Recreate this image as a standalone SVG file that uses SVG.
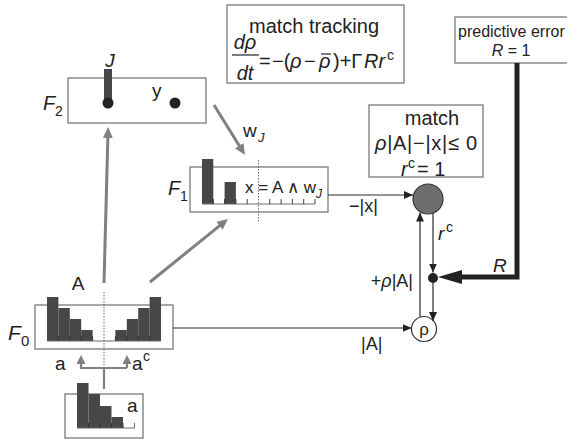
<svg xmlns="http://www.w3.org/2000/svg" width="567" height="440" viewBox="0 0 567 440">
<defs>
<marker id="ag" markerUnits="userSpaceOnUse" markerWidth="11" markerHeight="10" viewBox="0 0 11 10" refX="6" refY="5" orient="auto"><path d="M0,0 L11,5 L0,10 z" fill="#808080"/></marker>
<marker id="ag2" markerUnits="userSpaceOnUse" markerWidth="9" markerHeight="9" viewBox="0 0 9 9" refX="4" refY="4.5" orient="auto"><path d="M0,0 L9,4.5 L0,9 z" fill="#808080"/></marker>
<marker id="ak" markerUnits="userSpaceOnUse" markerWidth="9" markerHeight="8" viewBox="0 0 9 8" refX="9" refY="4" orient="auto"><path d="M0,0 L9,4 L0,8 z" fill="#222"/></marker>
<marker id="akb" markerUnits="userSpaceOnUse" markerWidth="24" markerHeight="14" viewBox="0 0 24 14" refX="12" refY="7" orient="auto"><path d="M0,0 L24,7 L0,14 z" fill="#222"/></marker>
</defs>
<style>
text{font-family:"Liberation Sans",Arial,sans-serif;fill:#222}
.it{font-style:italic}
.box{fill:#fff;stroke:#7a7a7a;stroke-width:1.3}
.bar{fill:#474747}
.base{stroke:#6a6a6a;stroke-width:1;fill:none}
.tick{stroke:#2a2a2a;stroke-width:0.9}
.g{stroke:#808080;stroke-width:3;fill:none}
.g2{stroke:#808080;stroke-width:2.2;fill:none}
.k{stroke:#2a2a2a;stroke-width:1.2;fill:none}
.dash{stroke:#444;stroke-width:0.8;stroke-dasharray:1.5 1.5;fill:none}
</style>
<rect width="567" height="440" fill="#fff"/>

<g id="match-tracking">
<rect class="box" x="227" y="5" width="177" height="78"/>
<text x="314" y="33" font-size="20" text-anchor="middle">match tracking</text>
<text x="245" y="49" font-size="20" text-anchor="middle" class="it">dρ</text>
<line x1="232" y1="55" x2="259" y2="55" stroke="#222" stroke-width="1.2"/>
<text x="245" y="80" font-size="20" text-anchor="middle" class="it">dt</text>
<text y="68" font-size="20"><tspan x="259">=</tspan><tspan x="272">−(</tspan><tspan x="290" class="it">ρ</tspan><tspan x="304">−</tspan><tspan x="319" class="it">ρ</tspan><tspan x="333">)+Γ</tspan><tspan x="364" class="it">Rr</tspan><tspan x="387" y="60" font-size="14">c</tspan></text>
<line x1="321" y1="54" x2="331" y2="54" stroke="#222" stroke-width="1.2"/>
</g>

<g id="predictive-error">
<rect class="box" x="455" y="17" width="120" height="46"/>
<text x="458" y="37" font-size="16">predictive error</text>
<text x="511" y="56" font-size="16" text-anchor="middle"><tspan class="it">R</tspan> = 1</text>
</g>

<g id="F2">
<rect class="box" x="68" y="78" width="138" height="45"/>
<rect class="bar" x="104" y="69" width="8" height="34"/>
<circle cx="108" cy="103" r="5.5" fill="#222"/>
<circle cx="175" cy="103" r="5.5" fill="#222"/>
<text x="110" y="67" font-size="19" text-anchor="middle" class="it">J</text>
<text x="152" y="97" font-size="19">y</text>
<text x="43" y="110" font-size="20" class="it">F</text>
<text x="55" y="116" font-size="14">2</text>
</g>

<g id="F1">
<rect class="box" x="190" y="167" width="138" height="45"/>
<rect class="bar" x="202" y="159" width="11.3" height="45"/>
<rect class="bar" x="224.6" y="182" width="11.3" height="22"/>
<path class="base" d="M202,204 H315"/>
<path class="tick" d="M213.3,199V204 M224.6,199V204 M235.9,199V204 M247.2,199V204 M269.8,199V204 M281.1,199V204 M292.4,199V204 M303.7,199V204 M315,199V204"/>
<line class="dash" x1="258.5" y1="160" x2="258.5" y2="222"/>
<text x="168" y="195" font-size="20" class="it">F</text>
<text x="180" y="201" font-size="14">1</text>
<text y="193" font-size="17"><tspan x="245">x = A ∧ w</tspan><tspan dy="5" font-size="12" class="it">J</tspan></text>
</g>

<g id="F0">
<rect class="box" x="35" y="305" width="138" height="44"/>
<rect class="bar" x="47" y="297" width="11.4" height="44"/>
<rect class="bar" x="58.4" y="308" width="11.4" height="33"/>
<rect class="bar" x="69.8" y="319" width="11.4" height="22"/>
<rect class="bar" x="81.2" y="330" width="11.4" height="11"/>
<rect class="bar" x="115.4" y="330" width="11.4" height="11"/>
<rect class="bar" x="126.8" y="319" width="11.4" height="22"/>
<rect class="bar" x="138.2" y="308" width="11.4" height="33"/>
<rect class="bar" x="149.6" y="297" width="11.4" height="44"/>
<path class="base" d="M47,341 H161"/>
<path class="tick" d="M58.4,336V341 M69.8,336V341 M81.2,336V341 M92.6,336V341 M115.4,336V341 M126.8,336V341 M138.2,336V341 M149.6,336V341"/>
<line class="dash" x1="104" y1="292" x2="104" y2="368"/>
<text x="78" y="290" font-size="19" text-anchor="middle">A</text>
<text x="8" y="340" font-size="21" class="it">F</text>
<text x="21" y="346" font-size="15">0</text>
</g>

<g id="input">
<rect class="box" x="65" y="394" width="78" height="44"/>
<rect class="bar" x="77" y="383" width="11.5" height="45"/>
<rect class="bar" x="88.5" y="394" width="11.5" height="34"/>
<rect class="bar" x="100" y="406" width="11.5" height="22"/>
<rect class="bar" x="111.5" y="417" width="11.5" height="11"/>
<path class="base" d="M77,428 H134.5 V423"/>
<path class="tick" d="M88.5,423V428 M100,423V428 M111.5,423V428 M123,423V428"/>
<text x="127" y="412" font-size="19">a</text>
</g>

<g id="match">
<rect class="box" x="369" y="105" width="114" height="72"/>
<text x="432" y="125" font-size="20" text-anchor="middle">match</text>
<text x="375" y="150" font-size="20" textLength="102" lengthAdjust="spacing"><tspan class="it">ρ</tspan>|A|−|x|≤ 0</text>
<text y="176" font-size="20"><tspan x="401" class="it">r</tspan><tspan x="408" y="168" font-size="14">c</tspan><tspan x="417" y="176">= 1</tspan></text>
<circle cx="428" cy="199" r="15" fill="#6e6e6e" stroke="#333" stroke-width="1.2"/>
</g>

<g id="rho">
<circle cx="424" cy="329" r="12.5" fill="#fff" stroke="#333" stroke-width="1.2"/>
<text x="424" y="335" font-size="17" text-anchor="middle">ρ</text>
</g>

<g id="reset-node">
<circle cx="433" cy="278" r="5" fill="#222"/>
</g>

<g id="connectors">
<path class="g" d="M104,283 L108,132" marker-end="url(#ag)"/>
<path class="g" d="M150,282 L224.1,222.1" marker-end="url(#ag)"/>
<path class="g" d="M214,105 L242.4,150.7" marker-end="url(#ag)"/>
<path class="g2" d="M104,389 V368 M80,368 H127"/>
<path class="g2" d="M81,368 V360" marker-end="url(#ag2)"/>
<path class="g2" d="M127,368 V360" marker-end="url(#ag2)"/>
<path class="k" d="M173,328 H411.5" marker-end="url(#ak)"/>
<path class="k" d="M328,195 H413" marker-end="url(#ak)"/>
<path class="k" d="M420,317 V212.5" marker-end="url(#ak)"/>
<path class="k" d="M433,213 V272.5" marker-end="url(#ak)"/>
<path class="k" d="M433,283 V321" marker-end="url(#ak)"/>
<path d="M517,63 V277 H450" fill="none" stroke="#222" stroke-width="5" marker-end="url(#akb)"/>
<text x="243" y="137" font-size="19">w</text>
<text x="258" y="142" font-size="13" class="it">J</text>
<text x="349" y="212" font-size="18">−|x|</text>
<text x="438" y="240" font-size="19" class="it">r</text>
<text x="446" y="232" font-size="14">c</text>
<text x="493" y="272" font-size="19" class="it">R</text>
<text x="413" y="287" font-size="18" text-anchor="end">+<tspan class="it">ρ</tspan>|A|</text>
<text x="361" y="350" font-size="18">|A|</text>
<text x="55" y="370" font-size="19">a</text>
<text x="132" y="370" font-size="19">a</text>
<text x="143" y="361" font-size="14">c</text>
</g>
</svg>
